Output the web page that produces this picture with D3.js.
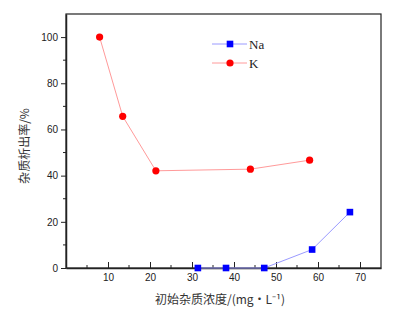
<!DOCTYPE html>
<html>
<head>
<meta charset="utf-8">
<script src="https://cdn.jsdelivr.net/npm/d3@7"></script>
<style>
  body { margin: 0; background: #fff; overflow: hidden; }
  svg { display: block; }
</style>
</head>
<body>
<div id="chart"></div>
<script>
// data
const naX = [31.4, 38.1, 47.2, 58.6, 67.6];
const naY = [0, 0, 0, 8.0, 24.2];
const kX = [8.0, 13.5, 21.4, 43.9, 58.0];
const kY = [100, 65.7, 42.1, 42.8, 46.7];
const xTicks = [10, 20, 30, 40, 50, 60, 70];
const yTicks = [0, 20, 40, 60, 80, 100];

const width = 412, height = 316;
const margin = { top: 14, right: 31, bottom: 48, left: 66 };
const innerWidth = width - margin.left - margin.right;
const innerHeight = height - margin.top - margin.bottom;

const svg = d3.select("#chart").append("svg")
  .attr("width", width)
  .attr("height", height)
  .attr("viewBox", `0 0 ${width} ${height}`);

const chart = svg.append("g").attr("transform", `translate(${margin.left},${margin.top})`);

const x = d3.scaleLinear().domain([0, 75]).range([0, innerWidth]);
const y = d3.scaleLinear().domain([0, 110]).range([innerHeight, 0]);

const serif = "'Liberation Serif', 'DejaVu Serif', serif";
const cjk = "'Noto Sans CJK SC', sans-serif";

// frame (top + right)
chart.append("rect")
  .attr("width", innerWidth)
  .attr("height", innerHeight)
  .attr("fill", "none")
  .attr("stroke", "#222")
  .attr("stroke-width", 1.2);

// x axis: ticks point inward
chart.append("g")
  .attr("transform", `translate(0,${innerHeight})`)
  .attr("font-family", serif)
  .attr("font-size", 13)
  .call(d3.axisBottom(x).tickValues(xTicks).tickSize(-6).tickSizeOuter(0).tickPadding(6));

// minor ticks, drawn straight from the scales
chart.append("g").selectAll("line")
  .data(d3.range(5, 75, 10))
  .join("line")
    .attr("x1", d => x(d)).attr("x2", d => x(d))
    .attr("y1", innerHeight).attr("y2", innerHeight - 3)
    .attr("stroke", "#222");

// y axis: ticks point outward
chart.append("g")
  .attr("font-family", serif)
  .attr("font-size", 13)
  .call(d3.axisLeft(y).tickValues(yTicks).tickSize(5).tickSizeOuter(0).tickPadding(3));
chart.append("g").selectAll("line")
  .data(d3.range(10, 110, 20))
  .join("line")
    .attr("x1", 0).attr("x2", -3)
    .attr("y1", d => y(d)).attr("y2", d => y(d))
    .attr("stroke", "#222");

chart.selectAll(".domain").attr("stroke", "#222").attr("stroke-width", 1.5);
chart.selectAll(".tick line").attr("stroke", "#222");
chart.selectAll(".tick text").attr("fill", "#222");

// lines + markers
const line = d3.line().x(d => x(d[0])).y(d => y(d[1]));
const naPts = naX.map((v, i) => [v, naY[i]]);
const kPts = kX.map((v, i) => [v, kY[i]]);

chart.append("path").datum(kPts)
  .attr("d", line).attr("fill", "none")
  .attr("stroke", "#ff9a9a").attr("stroke-width", 1);
chart.append("path").datum(naPts)
  .attr("d", line).attr("fill", "none")
  .attr("stroke", "#9a9aff").attr("stroke-width", 1);

chart.selectAll(".k").data(kPts).join("circle")
  .attr("class", "k")
  .attr("cx", d => x(d[0])).attr("cy", d => y(d[1]))
  .attr("r", 3.6).attr("fill", "#ff0000");

chart.selectAll(".na").data(naPts).join("rect")
  .attr("class", "na")
  .attr("x", d => x(d[0]) - 3.3).attr("y", d => y(d[1]) - 3.3)
  .attr("width", 6.6).attr("height", 6.6).attr("fill", "#0000ff");

// legend
const legend = svg.append("g").attr("transform", "translate(212,44)");
const items = [
  { name: "Na", line: "#9a9aff", fill: "#0000ff", shape: "rect" },
  { name: "K", line: "#ff9a9a", fill: "#ff0000", shape: "circle" }
];
items.forEach((it, i) => {
  const g = legend.append("g").attr("transform", `translate(0,${i * 19})`);
  g.append("line").attr("x1", 0).attr("x2", 35).attr("stroke", it.line).attr("stroke-width", 1);
  if (it.shape === "rect") {
    g.append("rect").attr("x", 14.7).attr("y", -3.3).attr("width", 6.6).attr("height", 6.6).attr("fill", it.fill);
  } else {
    g.append("circle").attr("cx", 18).attr("r", 3.6).attr("fill", it.fill);
  }
  g.append("text").attr("x", 37).attr("y", 4.5)
    .attr("font-family", serif).attr("font-size", 13)
    .attr("fill", "#222").text(it.name);
});

// axis labels
svg.append("text")
  .attr("x", 220).attr("y", 304)
  .attr("text-anchor", "middle")
  .attr("font-family", cjk).attr("font-size", 12)
  .attr("fill", "#333")
  .text("初始杂质浓度/(mg·L⁻¹)");

svg.append("text")
  .attr("transform", "translate(29,146) rotate(-90)")
  .attr("text-anchor", "middle")
  .attr("font-family", cjk).attr("font-size", 12)
  .attr("fill", "#333")
  .text("杂质析出率/%");
</script>
</body>
</html>
